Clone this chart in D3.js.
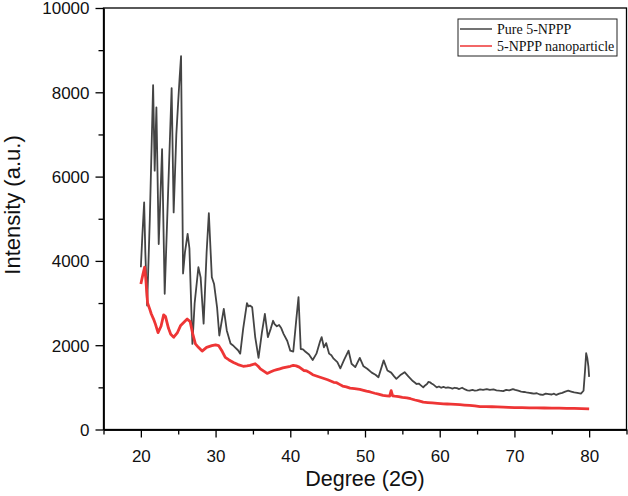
<!DOCTYPE html>
<html><head><meta charset="utf-8">
<script src="https://cdn.jsdelivr.net/npm/d3@7"></script>
<style>body{margin:0;background:#fff}svg{display:block}</style>
</head><body>
<svg id="c" width="628" height="496"></svg>
<script>
const pureDeg = [20.0,20.2,20.44,20.6,20.84,21.2,21.64,21.85,22.08,22.39,22.84,23.19,23.64,24.12,24.39,24.75,24.98,25.19,25.38,25.65,25.9,26.26,26.5,26.9,27.2,27.7,28.0,28.4,28.8,29.1,29.5,29.8,30.2,30.5,31.1,31.5,32.0,32.3,32.6,33.0,33.3,33.7,34.2,34.4,34.6,34.9,35.3,35.75,36.2,36.6,37.0,37.4,37.7,37.9,38.2,38.5,38.8,39.1,39.6,40.0,40.4,40.8,41.1,41.4,41.7,42.0,42.5,43.0,43.5,44.0,44.2,44.5,44.8,45.2,45.5,45.8,46.3,46.7,47.2,47.8,48.2,48.7,49.3,49.8,50.3,50.9,51.4,51.8,52.5,53.0,53.5,53.9,54.2,54.8,55.3,55.8,56.4,56.7,56.9,57.2,57.4,57.6,57.8,58.0,58.3,58.5,58.7,58.9,59.2,59.4,59.6,59.9,60.2,60.5,60.8,61.1,61.4,61.7,62.0,62.3,62.6,63.0,63.4,63.7,64.0,64.4,64.7,65.0,65.4,65.8,66.3,66.7,67.2,67.6,68.0,68.5,68.9,69.3,69.8,70.1,70.5,70.9,71.3,71.6,72.0,72.3,72.6,73.0,73.4,73.8,74.2,74.6,75.0,75.3,75.6,76.0,76.4,76.8,77.2,77.6,78.0,78.4,78.9,79.25,79.45,79.6,79.75,79.9,80.0];
const pureInt = [3850,4600,5390,4200,2940,5000,8170,6140,7640,4400,6650,3220,5590,8100,5150,7010,7720,8350,8860,3700,4200,4640,4300,2030,3000,3850,3610,2510,4200,5130,3610,3450,2900,2230,2860,2350,2040,2000,1950,1880,1800,2400,3000,2920,2940,2900,2200,1700,2300,2740,2190,2400,2580,2500,2450,2480,2400,2270,2100,1870,1850,2600,3140,1910,1900,1850,1780,1650,1800,2100,2190,1950,2050,1800,1760,1680,1600,1450,1650,1870,1560,1480,1700,1500,1440,1350,1300,1240,1640,1400,1350,1260,1200,1300,1360,1260,1150,1110,1080,1090,1060,1030,1000,1040,1080,1130,1120,1090,1060,1030,1000,1020,990,1010,990,1000,990,970,990,980,960,990,950,930,920,940,920,930,950,940,960,940,950,930,920,910,940,930,960,940,920,900,890,880,870,860,850,860,830,820,850,840,830,850,820,850,870,900,920,900,880,870,850,920,1400,1810,1700,1500,1250];
const nanoDeg = [20.0,20.3,20.5,20.65,20.9,21.2,21.4,21.7,21.95,22.3,22.7,23.05,23.3,23.7,24.0,24.4,24.9,25.3,25.8,26.2,26.6,26.9,27.3,27.7,28.2,28.8,29.5,30.0,30.4,30.9,31.3,31.8,32.4,33.0,33.7,34.2,34.6,35.3,35.7,36.0,36.5,36.9,37.4,37.8,38.2,38.6,39.0,39.5,40.0,40.4,40.8,41.2,41.8,42.2,42.6,43.0,43.5,44.0,44.5,45.0,45.4,45.8,46.2,46.6,47.0,47.5,48.0,48.6,49.3,49.8,50.2,50.7,51.3,51.8,52.4,52.9,53.3,53.5,53.7,54.0,54.5,55.0,55.6,56.1,56.7,57.2,57.8,58.4,59.0,59.7,60.5,61.0,61.5,62.1,62.7,63.3,64.0,64.7,65.4,66.2,67.0,67.7,68.5,69.2,70.0,71.0,72.0,73.0,74.0,75.0,76.0,77.0,78.0,79.0,80.0];
const nanoInt = [3450,3700,3850,3600,3000,2850,2740,2620,2500,2300,2450,2720,2680,2400,2260,2190,2300,2460,2550,2620,2560,2300,2030,1950,1860,1950,1990,2010,1990,1850,1710,1650,1590,1540,1500,1510,1520,1560,1500,1440,1380,1330,1370,1400,1420,1440,1460,1480,1500,1520,1510,1480,1400,1390,1350,1300,1270,1240,1210,1180,1150,1120,1110,1070,1030,1010,980,970,950,930,910,890,860,840,810,800,790,920,800,790,780,760,750,730,700,680,650,640,630,620,610,605,600,595,590,580,570,560,545,545,540,535,530,525,520,518,515,512,510,508,505,502,500,495,490];
const xTicks = [20,30,40,50,60,70,80];
const xMinor = [15,25,35,45,55,65,75,85];
const yTicks = [0,2000,4000,6000,8000,10000];
const yMinor = [1000,3000,5000,7000,9000];
const seriesNames = ["Pure 5-NPPP","5-NPPP nanoparticle"];
const seriesColors = ["#444444","#ee3535"];

const svg = d3.select("#c");
const x = d3.scaleLinear().domain([15,85]).range([103.5,626.5]);
const y = d3.scaleLinear().domain([0,10000]).range([429.5,8]);
const tickFont = "Liberation Sans, Arial, sans-serif";

svg.append("rect").attr("x",x(15)).attr("y",y(10000)).attr("width",x(85)-x(15)).attr("height",y(0)-y(10000))
  .attr("fill","none").attr("stroke","#000").attr("stroke-width",1.3);

const line = d3.line().x(d=>x(d[0])).y(d=>y(d[1]));
const pure = pureDeg.map((d,i)=>[d,pureInt[i]]);
const nano = nanoDeg.map((d,i)=>[d,nanoInt[i]]);
svg.append("path").datum(pure).attr("d",line).attr("fill","none").attr("stroke",seriesColors[0]).attr("stroke-width",1.8).attr("stroke-linejoin","round");
svg.append("path").datum(nano).attr("d",line).attr("fill","none").attr("stroke",seriesColors[1]).attr("stroke-width",2.8).attr("stroke-linejoin","round");

const gx = svg.append("g").attr("transform",`translate(0,${y(0)})`)
  .call(d3.axisBottom(x).tickValues(xTicks).tickFormat(d3.format("d")).tickSize(8).tickSizeOuter(0));
svg.append("g").attr("transform",`translate(0,${y(0)})`)
  .call(d3.axisBottom(x).tickValues(xMinor).tickFormat("").tickSize(5).tickSizeOuter(0));
const gy = svg.append("g").attr("transform",`translate(${x(15)},0)`)
  .call(d3.axisLeft(y).tickValues(yTicks).tickFormat(d3.format("d")).tickSize(8).tickSizeOuter(0));
svg.append("g").attr("transform",`translate(${x(15)},0)`)
  .call(d3.axisLeft(y).tickValues(yMinor).tickFormat("").tickSize(5).tickSizeOuter(0));
svg.selectAll(".domain").attr("stroke","#000").attr("stroke-width",1.3);
svg.selectAll(".tick line").attr("stroke","#000").attr("stroke-width",1.3);
svg.selectAll(".tick text").attr("font-family",tickFont).attr("font-size",17).attr("fill","#111");
gx.selectAll(".tick text").attr("dy",null).attr("y",32);
gy.selectAll(".tick text").attr("x",-14).attr("dy","0.35em");

svg.append("text").attr("x",(x(15)+x(85))/2).attr("y",486).attr("text-anchor","middle")
  .attr("font-family",tickFont).attr("font-size",21.5).attr("fill","#111").text("Degree (2\u0398)");
svg.append("text").attr("transform","translate(20,205) rotate(-90)").attr("text-anchor","middle")
  .attr("font-family",tickFont).attr("font-size",22).attr("fill","#111").text("Intensity (a.u.)");

const lg = svg.append("g");
lg.append("rect").attr("x",458).attr("y",19).attr("width",159).attr("height",37)
  .attr("fill","#fff").attr("stroke","#222").attr("stroke-width",1);
seriesNames.forEach((n,i)=>{
  const ly = 29 + i*17;
  lg.append("line").attr("x1",460).attr("x2",492).attr("y1",ly).attr("y2",ly).attr("stroke",seriesColors[i]).attr("stroke-width",1.5);
  lg.append("text").attr("x",497).attr("y",ly+4.5).attr("font-family","Liberation Serif, Times New Roman, serif")
    .attr("font-size",14).attr("fill","#111").text(n);
});
</script>
</body></html>
